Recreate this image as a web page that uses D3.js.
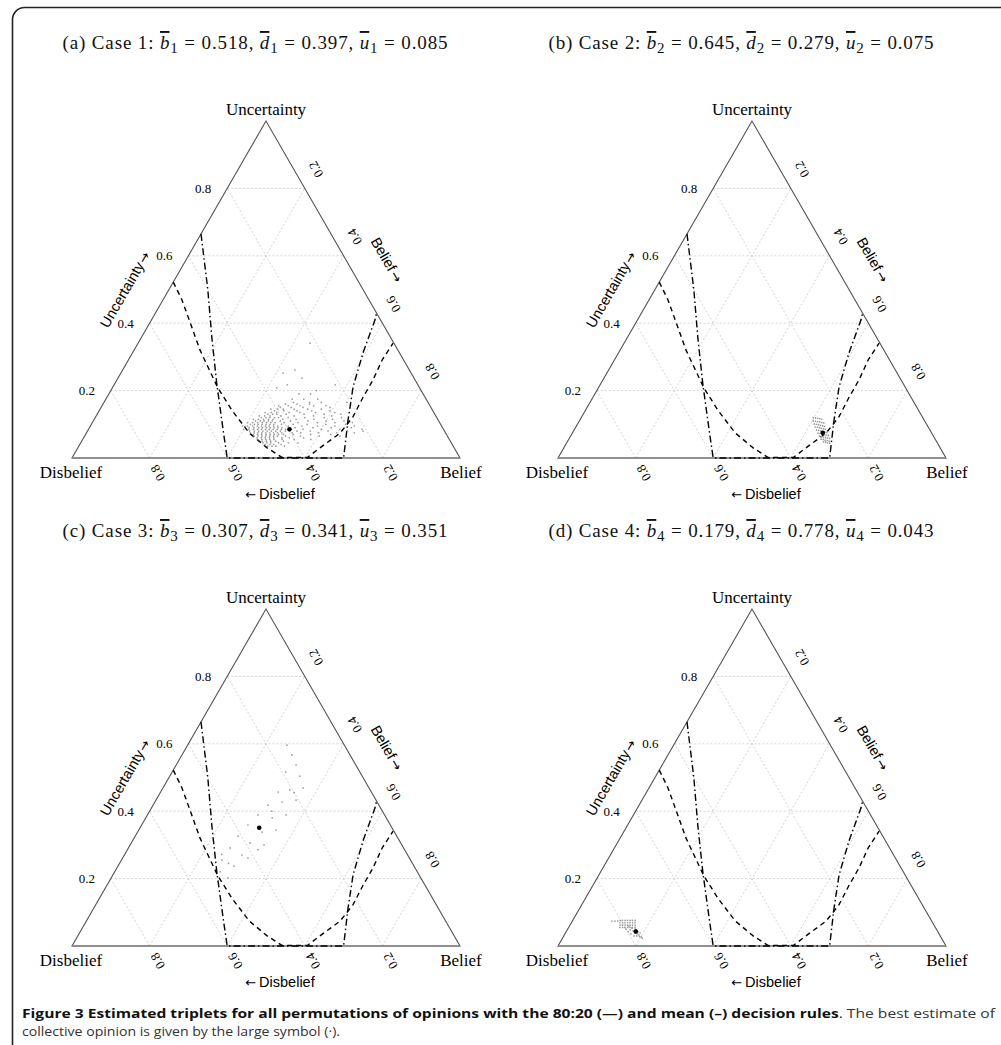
<!DOCTYPE html>
<html><head><meta charset="utf-8">
<script src="https://cdn.jsdelivr.net/npm/d3@7"></script>
<style>body{margin:0;background:#fff}svg{display:block}</style>
</head><body>
<svg id="chart" width="1001" height="1045"></svg>
<script>
// ---------------- data ----------------
const panelLetters = ["(a)", "(b)", "(c)", "(d)"];
const caseNumbers = [1, 2, 3, 4];
const meanBelief = [0.518, 0.645, 0.307, 0.179];
const meanDisbelief = [0.397, 0.279, 0.341, 0.778];
const meanUncertainty = [0.085, 0.075, 0.351, 0.043];
const gridTicks = [0.2, 0.4, 0.6, 0.8];
const tickLabels = ["0.2", "0.4", "0.6", "0.8"];
const vertexLabels = ["Disbelief", "Belief", "Uncertainty"];
const axisTitles = ["Uncertainty", "Belief", "Disbelief"];

// decision-rule boundaries as [belief, uncertainty]
const rule8020 = [[0.000,0.665],[0.100,0.500],[0.186,0.350],[0.265,0.217],[0.348,0.083],[0.400,0.000],
  [0.700,0.000],[0.655,0.113],[0.619,0.211],[0.594,0.312],[0.576,0.410],[0.570,0.430]];
const ruleMean = [[0.000,0.522],[0.049,0.469],[0.170,0.320],[0.272,0.208],[0.341,0.142],[0.420,0.074],
  [0.488,0.030],[0.540,0.002],[0.606,0.002],[0.624,0.030],[0.654,0.074],[0.663,0.122],[0.660,0.181],
  [0.660,0.231],[0.654,0.291],[0.657,0.341]];

// Case 1 estimated triplets: rows of [uncertainty, [belief values]]
const case1Rows = [
 [0.035,[0.487,0.498,0.508,0.53]],
 [0.040,[0.478,0.49,0.50,0.519]],
 [0.045,[0.47,0.48,0.49,0.51,0.535,0.56]],
 [0.050,[0.465,0.476,0.487,0.50,0.52]],
 [0.055,[0.452,0.462,0.472,0.482,0.493,0.514,0.545,0.588]],
 [0.060,[0.447,0.458,0.468,0.479,0.49,0.511,0.53,0.567]],
 [0.065,[0.437,0.447,0.457,0.467,0.477,0.487,0.497,0.518,0.556,0.605,0.658]],
 [0.070,[0.432,0.443,0.454,0.465,0.476,0.486,0.497,0.51,0.535,0.58,0.632]],
 [0.075,[0.422,0.432,0.442,0.452,0.462,0.472,0.482,0.492,0.503,0.53,0.552,0.597,0.645,0.69]],
 [0.080,[0.418,0.43,0.441,0.452,0.463,0.474,0.485,0.497,0.51,0.54,0.574,0.62,0.67,0.71]],
 [0.085,[0.40,0.413,0.425,0.436,0.446,0.456,0.466,0.476,0.486,0.497,0.508,0.553,0.6,0.648,0.705]],
 [0.090,[0.412,0.424,0.436,0.446,0.456,0.466,0.476,0.486,0.496,0.53,0.576,0.623,0.675]],
 [0.095,[0.392,0.405,0.418,0.43,0.441,0.451,0.461,0.472,0.483,0.51,0.545,0.585,0.63,0.68]],
 [0.100,[0.41,0.42,0.43,0.44,0.45,0.46,0.47,0.49,0.52,0.556,0.604,0.655]],
 [0.105,[0.40,0.413,0.426,0.438,0.449,0.46,0.471,0.494,0.53,0.58,0.625,0.67]],
 [0.110,[0.418,0.43,0.44,0.451,0.461,0.482,0.508,0.553,0.6,0.646]],
 [0.115,[0.41,0.423,0.436,0.449,0.461,0.486,0.52,0.566,0.614]],
 [0.120,[0.428,0.44,0.45,0.462,0.472,0.497,0.54,0.59,0.635]],
 [0.125,[0.42,0.434,0.448,0.476,0.51,0.56,0.607]],
 [0.130,[0.44,0.452,0.463,0.487,0.533,0.585,0.628]],
 [0.135,[0.43,0.446,0.46,0.492,0.52,0.56,0.61]],
 [0.140,[0.452,0.476,0.51,0.548,0.595]],
 [0.145,[0.44,0.458,0.472,0.5,0.535,0.57]],
 [0.150,[0.462,0.49,0.52,0.59]],
 [0.155,[0.455,0.48,0.51,0.545,0.577]],
 [0.160,[0.47,0.5,0.532]],
 [0.165,[0.488,0.53,0.56,0.626]],
 [0.175,[0.48,0.51,0.546]],
 [0.190,[0.49,0.52]],
 [0.200,[0.53]],
 [0.208,[0.424]],
 [0.217,[0.446,0.57]],
 [0.237,[0.474]],
 [0.252,[0.418]],
 [0.261,[0.444]],
 [0.341,[0.443]]
];
// Case 2 estimated triplets [belief, uncertainty]
const case2Points = [
 [0.598,0.120],[0.604,0.119],[0.610,0.118],[0.616,0.117],[0.622,0.115],
 [0.603,0.110],[0.609,0.109],[0.615,0.108],[0.621,0.107],[0.627,0.105],[0.633,0.104],
 [0.610,0.101],[0.616,0.100],[0.622,0.099],[0.628,0.097],[0.634,0.096],[0.640,0.094],
 [0.617,0.092],[0.623,0.091],[0.629,0.090],[0.635,0.088],[0.641,0.087],[0.647,0.085],
 [0.625,0.083],[0.631,0.082],[0.637,0.080],[0.643,0.079],[0.649,0.077],[0.655,0.076],
 [0.633,0.074],[0.639,0.073],[0.645,0.071],[0.651,0.070],[0.657,0.068],[0.663,0.067],
 [0.641,0.065],[0.647,0.064],[0.653,0.062],[0.659,0.061],[0.665,0.059],[0.671,0.058],
 [0.650,0.056],[0.656,0.055],[0.662,0.053],[0.668,0.052],[0.674,0.050],
 [0.660,0.048],[0.666,0.047],[0.672,0.045],[0.678,0.044]
];
// Case 3 estimated triplets [belief, uncertainty]
const case3Points = [
 [0.256,0.596],[0.283,0.567],[0.309,0.537],[0.293,0.516],[0.335,0.504],[0.361,0.469],[0.330,0.463],
 [0.303,0.457],[0.328,0.427],[0.361,0.433],[0.296,0.418],[0.285,0.389],[0.326,0.380],[0.357,0.389],
 [0.274,0.359],[0.321,0.338],[0.354,0.344],[0.265,0.326],[0.306,0.306],[0.345,0.300],[0.262,0.291],
 [0.303,0.270],[0.259,0.255],[0.299,0.237],[0.272,0.220],[0.301,0.202],[0.323,0.261],[0.281,0.245],
 [0.250,0.272],[0.336,0.286],[0.315,0.400],[0.345,0.455]
];
// Case 4 estimated triplets [belief, uncertainty]
const case4Points = [
 [0.102,0.074],[0.110,0.074],[0.117,0.074],
 [0.122,0.076],[0.125,0.069],[0.129,0.062],[0.132,0.055],
 [0.128,0.076],[0.132,0.069],[0.135,0.062],[0.139,0.055],
 [0.135,0.076],[0.138,0.069],[0.142,0.062],[0.145,0.055],
 [0.141,0.076],[0.145,0.069],[0.148,0.062],[0.152,0.055],
 [0.148,0.076],[0.151,0.069],[0.155,0.062],[0.158,0.055],
 [0.154,0.076],[0.158,0.069],[0.161,0.062],[0.164,0.055],
 [0.161,0.076],[0.164,0.069],[0.168,0.062],[0.171,0.055],
 [0.162,0.048],[0.171,0.045],[0.179,0.039],[0.186,0.036],[0.192,0.033],[0.201,0.027],[0.205,0.024],
 [0.160,0.042],[0.170,0.036],[0.181,0.030],[0.177,0.048],[0.185,0.042],[0.192,0.039],[0.164,0.053],
 [0.150,0.050],[0.153,0.059],[0.174,0.050],[0.188,0.030],[0.196,0.028]
];

// ---------------- layout ----------------
const svg = d3.select("#chart");
const W = 388, H = 337;
const bx = d3.scaleLinear().domain([0, 1]).range([0, W]);
const uy = d3.scaleLinear().domain([0, 1]).range([0, -H]);
const px = (b, u) => bx(b + u / 2);
const py = (b, u) => uy(u);
const serif = "'Liberation Serif','Times New Roman',serif";
const sans = "'Liberation Sans',Arial,sans-serif";
const arrowFont = "'DejaVu Sans',sans-serif";

// frame
svg.append("path")
  .attr("d", "M12.5,1046 L12.5,19 A12,12 0 0 1 24.5,7.5 L1002,7.5")
  .attr("fill", "none").attr("stroke", "#222").attr("stroke-width", 1.6);

const allPoints = [
  case1Rows.flatMap(([u, bs]) => bs.map(b => [b, u])),
  case2Points, case3Points, case4Points
];

const line = d3.line().x(d => px(d[0], d[1])).y(d => py(d[0], d[1]));

for (let i = 0; i < 4; i++) {
  const col = i % 2, row = Math.floor(i / 2);
  const g = svg.append("g").attr("transform", `translate(${72 + col * 486},${458 + row * 488})`);

  // title
  const t = g.append("text").attr("x", px(0, 1) - 11).attr("y", -409)
    .attr("text-anchor", "middle").attr("font-family", serif).attr("font-size", 19).attr("fill", "#111")
    .attr("textLength", 385).attr("lengthAdjust", "spacing");
  t.append("tspan").text(`${panelLetters[i]} Case ${caseNumbers[i]}: `);
  const parts = [["b", meanBelief[i]], ["d", meanDisbelief[i]], ["u", meanUncertainty[i]]];
  parts.forEach(([sym, val], k) => {
    t.append("tspan").attr("font-style", "italic").attr("text-decoration", "overline").text(sym);
    t.append("tspan").attr("dy", 4).attr("font-size", 15).text(caseNumbers[i]);
    t.append("tspan").attr("dy", -4).text(` = ${val.toFixed(3)}${k < 2 ? ", " : ""}`);
  });

  // grid
  const grid = g.append("g").attr("stroke", "#c8c8c8").attr("stroke-width", 0.8)
    .attr("stroke-dasharray", "2,2").attr("fill", "none");
  gridTicks.forEach(v => {
    grid.append("path").attr("d", line([[0, v], [1 - v, v]]));
    grid.append("path").attr("d", line([[v, 0], [v, 1 - v]]));
    grid.append("path").attr("d", line([[1 - v, 0], [0, 1 - v]]));
  });

  // triangle
  g.append("path").attr("d", line([[0, 1], [0, 0]]) + "L" + px(1, 0) + "," + py(1, 0) + "Z")
    .attr("fill", "none").attr("stroke", "#555").attr("stroke-width", 1.1);
  g.append("path").attr("d", line([[0, 0], [1, 0]]))
    .attr("fill", "none").attr("stroke", "#888").attr("stroke-width", 1.6);

  // tick labels
  gridTicks.forEach((v, k) => {
    g.append("text").attr("x", px(0, v) - 24).attr("y", py(0, v))
      .attr("text-anchor", "middle").attr("dominant-baseline", "central")
      .attr("font-family", serif).attr("font-size", 13).text(tickLabels[k]);
    const rx = px(v, 1 - v) + 11, ry = py(v, 1 - v) - 19;
    g.append("text").attr("transform", `translate(${rx},${ry}) rotate(-120)`)
      .attr("text-anchor", "middle").attr("dominant-baseline", "central")
      .attr("font-family", serif).attr("font-size", 13).text(tickLabels[k]);
    const dx = px(1 - v, 0) + 8, dy = py(1 - v, 0) + 15;
    g.append("text").attr("transform", `translate(${dx},${dy}) rotate(-120)`)
      .attr("text-anchor", "middle").attr("dominant-baseline", "central")
      .attr("font-family", serif).attr("font-size", 13).text(tickLabels[k]);
  });

  // vertex labels
  g.append("text").attr("x", px(0, 0) - 1).attr("y", 20).attr("text-anchor", "middle")
    .attr("font-family", serif).attr("font-size", 17).text(vertexLabels[0]);
  g.append("text").attr("x", px(1, 0) + 1).attr("y", 20).attr("text-anchor", "middle")
    .attr("font-family", serif).attr("font-size", 17).text(vertexLabels[1]);
  g.append("text").attr("x", px(0, 1)).attr("y", py(0, 1) - 6).attr("text-anchor", "middle")
    .attr("font-family", serif).attr("font-size", 17).text(vertexLabels[2]);

  // axis titles
  const ut = g.append("text").attr("transform", `translate(${px(0, 0.5) - 44},${py(0, 0.5)}) rotate(-60)`)
    .attr("text-anchor", "middle").attr("dominant-baseline", "central")
    .attr("font-family", sans).attr("font-size", 14.5);
  ut.append("tspan").text(axisTitles[0]);
  ut.append("tspan").attr("font-family", arrowFont).attr("font-size", 13).attr("dx", 1).text("\u2192");
  {
    const bb = 0.465, cx = px(bb, 1 - bb) + 35.5 * 0.866, cy = py(bb, 1 - bb) - 35.5 * 0.5;
    const bt = g.append("text").attr("transform", `translate(${cx},${cy}) rotate(60)`)
      .attr("text-anchor", "middle").attr("dominant-baseline", "central")
      .attr("font-family", sans).attr("font-size", 14.5);
    bt.append("tspan").text(axisTitles[1]);
    bt.append("tspan").attr("font-family", arrowFont).attr("font-size", 13).attr("dx", 2).text("\u2192");
  }
  const dt = g.append("text").attr("x", px(0.536, 0)).attr("y", 41).attr("text-anchor", "middle")
    .attr("font-family", sans).attr("font-size", 14.5);
  dt.append("tspan").attr("font-family", arrowFont).attr("font-size", 13).text("\u2190");
  dt.append("tspan").attr("dx", 3).text(axisTitles[2]);

  // decision rules
  g.append("path").attr("d", line(rule8020)).attr("fill", "none").attr("stroke", "#000")
    .attr("stroke-width", 1.4).attr("stroke-dasharray", "7,3,1.5,3");
  g.append("path").attr("d", line(ruleMean)).attr("fill", "none").attr("stroke", "#000")
    .attr("stroke-width", 1.4).attr("stroke-dasharray", "5,4");

  // estimated triplets
  g.append("g").selectAll("circle").data(allPoints[i]).join("circle")
    .attr("cx", d => px(d[0], d[1])).attr("cy", d => py(d[0], d[1]))
    .attr("r", 0.85).attr("fill", "#999");

  // best estimate
  g.append("circle").attr("cx", px(meanBelief[i], meanUncertainty[i]))
    .attr("cy", py(meanBelief[i], meanUncertainty[i])).attr("r", 2.3).attr("fill", "#000");
}

// caption
const capFont = "'Open Sans',Lato,sans-serif";
const cap = svg.append("text").attr("x", 22).attr("y", 1018)
  .attr("font-family", capFont).attr("font-size", 13).attr("fill", "#333")
  .attr("textLength", 973).attr("lengthAdjust", "spacingAndGlyphs");
cap.append("tspan").attr("font-weight", "bold").attr("fill", "#111")
  .text("Figure 3 Estimated triplets for all permutations of opinions with the 80:20 (\u2014) and mean (\u2013) decision rules");
cap.append("tspan").text(". The best estimate of");
svg.append("text").attr("x", 22).attr("y", 1036)
  .attr("font-family", capFont).attr("font-size", 13).attr("fill", "#333")
  .attr("textLength", 318).attr("lengthAdjust", "spacingAndGlyphs")
  .text("collective opinion is given by the large symbol (\u00b7).");
</script>
</body></html>
